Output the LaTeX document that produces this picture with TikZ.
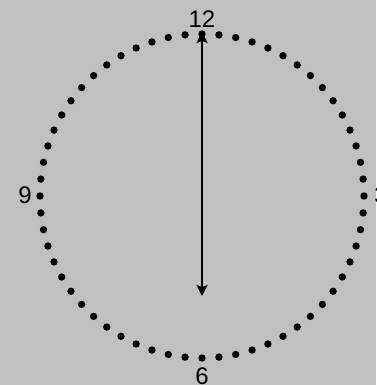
\documentclass[tikz,border=0pt]{standalone}
\usepackage{fontspec}
\setmainfont{Liberation Sans}
\usetikzlibrary{arrows.meta}
\definecolor{bggray}{HTML}{C0C0C0}
\begin{document}
\begin{tikzpicture}[x=1pt,y=-1pt,
  dotmark/.style={fill=black},
  num/.style={font=\fontsize{24}{24}\selectfont, inner sep=0pt, text=black},
  hand/.style={line width=2.4pt, {Stealth[length=11pt,width=11pt,inset=2pt]}-{Stealth[length=11pt,width=11pt,inset=2pt]}}]
\fill[bggray] (0,0) rectangle (376,385);
\useasboundingbox (0,0) rectangle (376,385);
\coordinate (c) at (202,196);
\foreach \i in {0,...,59} \fill[dotmark] ([shift={(\i*6:162pt)}]c) circle (3.7pt);
\node[num] (n12) at (202,19) {12};
\node[num] (n9) at (25,195) {9};
\node[num] (n6) at (202,376) {6};
\node[num] (n3) at (381,195) {3};
\coordinate (top) at (202,32);
\coordinate (bot) at (202,296);
\draw[hand] (bot) -- (top);
\end{tikzpicture}
\end{document}
